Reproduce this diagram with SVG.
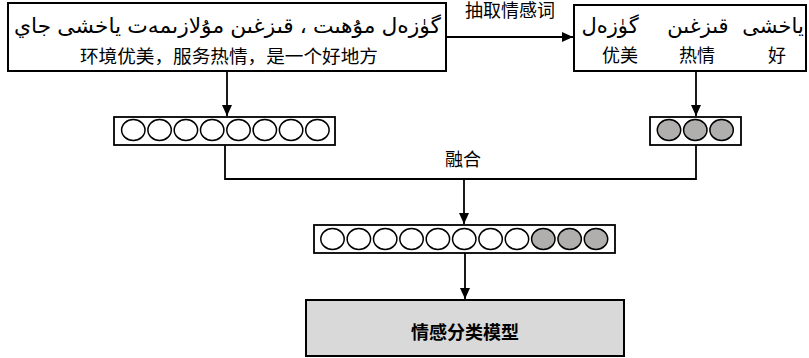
<svg xmlns="http://www.w3.org/2000/svg" width="809" height="358" viewBox="0 0 809 358">
<style>
.box{fill:#fff;stroke:#000;stroke-width:2}
.vec{fill:#fff;stroke:#000;stroke-width:1.8}
.c{fill:#fff;stroke:#000;stroke-width:1.5}
.g{fill:#b1aeae;stroke:#000;stroke-width:1.5}
.ln{fill:none;stroke:#000;stroke-width:1.8}
.zh{font-family:"Liberation Sans","Noto Sans CJK SC",sans-serif;font-size:18px;fill:#000}
.ug{font-family:"Liberation Sans","DejaVu Sans","Noto Sans",sans-serif;font-size:21px;fill:#000}
</style>
<defs>
<marker id="ah" markerUnits="userSpaceOnUse" markerWidth="12" markerHeight="12" refX="11" refY="5" orient="auto">
<path d="M0,0 L11,5 L0,10 Z" fill="#000"/>
</marker>
</defs>
<g id="connectors">
<line class="ln" x1="446" y1="37" x2="573" y2="37" marker-end="url(#ah)"/>
<line class="ln" x1="227" y1="71" x2="227" y2="116" marker-end="url(#ah)"/>
<line class="ln" x1="696" y1="71" x2="696" y2="116" marker-end="url(#ah)"/>
<polyline class="ln" points="225,145 225,179 696,179 696,145"/>
<line class="ln" x1="464" y1="179" x2="464" y2="224" marker-end="url(#ah)"/>
<line class="ln" x1="465" y1="253" x2="465" y2="299" marker-end="url(#ah)"/>
<text class="zh" x="510" y="17" text-anchor="middle">抽取情感词</text>
<text class="zh" x="463" y="166" text-anchor="middle">融合</text>
</g>
<g id="source">
<rect class="box" x="8" y="3" width="438" height="68"/>
<text class="ug" x="227.5" y="33" direction="rtl" text-anchor="middle" textLength="427" lengthAdjust="spacingAndGlyphs">گۈزەل مۇھىت ، قىزغىن مۇلازىمەت ياخشى جاي</text>
<text class="zh" x="229" y="63" text-anchor="middle" textLength="298" lengthAdjust="spacingAndGlyphs">环境优美，服务热情，是一个好地方</text>
</g>
<g id="sentiment-words">
<rect class="box" x="574" y="5" width="232" height="66"/>
<text class="ug" x="610" y="33" text-anchor="middle" direction="rtl">گۈزەل</text>
<text class="ug" x="698" y="33" text-anchor="middle" direction="rtl">قىزغىن</text>
<text class="ug" x="773" y="33" text-anchor="middle" direction="rtl">ياخشى</text>
<text class="zh" x="620" y="62" text-anchor="middle">优美</text>
<text class="zh" x="697" y="62" text-anchor="middle">热情</text>
<text class="zh" x="777" y="62" text-anchor="middle">好</text>
</g>
<g id="sentence-vector">
<rect class="vec" x="114" y="117" width="221" height="28"/>
<ellipse class="c" cx="133.3" cy="130" rx="11.7" ry="10.5"/>
<ellipse class="c" cx="159.6" cy="130" rx="11.7" ry="10.5"/>
<ellipse class="c" cx="185.9" cy="130" rx="11.7" ry="10.5"/>
<ellipse class="c" cx="212.2" cy="130" rx="11.7" ry="10.5"/>
<ellipse class="c" cx="238.5" cy="130" rx="11.7" ry="10.5"/>
<ellipse class="c" cx="264.8" cy="130" rx="11.7" ry="10.5"/>
<ellipse class="c" cx="291.1" cy="130" rx="11.7" ry="10.5"/>
<ellipse class="c" cx="317.4" cy="130" rx="11.7" ry="10.5"/>
</g>
<g id="emotion-vector">
<rect class="vec" x="650" y="117" width="91" height="28"/>
<ellipse class="g" cx="669" cy="130" rx="11.7" ry="10.5"/>
<ellipse class="g" cx="695.3" cy="130" rx="11.7" ry="10.5"/>
<ellipse class="g" cx="721.6" cy="130" rx="11.7" ry="10.5"/>
</g>
<g id="fused-vector">
<rect class="vec" x="314" y="225" width="301" height="28"/>
<ellipse class="c" cx="332.5" cy="239" rx="11.7" ry="10.5"/>
<ellipse class="c" cx="358.85" cy="239" rx="11.7" ry="10.5"/>
<ellipse class="c" cx="385.2" cy="239" rx="11.7" ry="10.5"/>
<ellipse class="c" cx="411.55" cy="239" rx="11.7" ry="10.5"/>
<ellipse class="c" cx="437.9" cy="239" rx="11.7" ry="10.5"/>
<ellipse class="c" cx="464.25" cy="239" rx="11.7" ry="10.5"/>
<ellipse class="c" cx="490.6" cy="239" rx="11.7" ry="10.5"/>
<ellipse class="c" cx="516.95" cy="239" rx="11.7" ry="10.5"/>
<ellipse class="g" cx="543.3" cy="239" rx="11.7" ry="10.5"/>
<ellipse class="g" cx="569.65" cy="239" rx="11.7" ry="10.5"/>
<ellipse class="g" cx="596" cy="239" rx="11.7" ry="10.5"/>
</g>
<g id="classifier">
<rect x="306" y="300" width="318" height="56" fill="#d9d9d9" stroke="#000" stroke-width="2"/>
<text class="zh" x="465" y="339" text-anchor="middle" font-weight="bold">情感分类模型</text>
</g>
</svg>
